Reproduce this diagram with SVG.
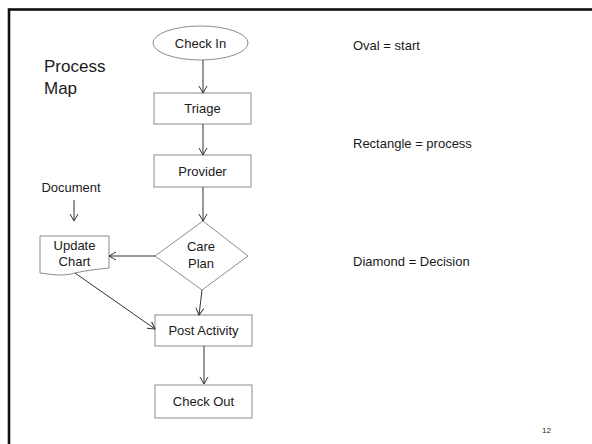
<svg xmlns="http://www.w3.org/2000/svg" width="592" height="444" viewBox="0 0 592 444">
<defs>
<marker id="ah" markerWidth="10" markerHeight="10" refX="8" refY="5" orient="auto" markerUnits="userSpaceOnUse">
<path d="M1,1 L8,5 L1,9" fill="none" stroke="#333" stroke-width="1"/>
</marker>
</defs>
<style>
.shape{fill:#fff;stroke:#8c8c8c;stroke-width:1}
.lbl{font-family:"Liberation Sans",Arial,sans-serif;font-size:13px;fill:#1a1a1a;text-anchor:middle}
.txt{font-family:"Liberation Sans",Arial,sans-serif;font-size:13px;fill:#1a1a1a}
.conn{fill:none;stroke:#333;stroke-width:1;marker-end:url(#ah)}
</style>
<rect width="592" height="444" fill="#fff"/>
<rect x="9" y="9.5" width="620" height="480" fill="none" stroke="#111" stroke-width="2.6"/>
<text class="txt" x="44" y="72" font-size="17" style="font-size:17px">Process</text>
<text class="txt" x="44" y="94" style="font-size:17px">Map</text>
<g id="checkin">
<ellipse class="shape" cx="200.5" cy="43" rx="47.5" ry="17"/>
<text class="lbl" x="200.5" y="47.5">Check In</text>
</g>
<g id="triage">
<rect class="shape" x="154" y="93" width="97" height="31"/>
<text class="lbl" x="202.5" y="113">Triage</text>
</g>
<g id="provider">
<rect class="shape" x="154" y="155" width="97" height="32"/>
<text class="lbl" x="202.5" y="175.5">Provider</text>
</g>
<g id="careplan">
<path class="shape" d="M203,221 L248,256 L202,290 L155,256 Z"/>
<text class="lbl" x="201" y="251">Care</text>
<text class="lbl" x="201" y="268">Plan</text>
</g>
<g id="updatechart">
<path class="shape" d="M40,236 H109 V268 C100,269 88,270 75,273 C62,277 50,274 40,273 Z"/>
<text class="lbl" x="74.5" y="250">Update</text>
<text class="lbl" x="74.5" y="266">Chart</text>
</g>
<g id="document">
<text class="lbl" x="71" y="192">Document</text>
</g>
<g id="postactivity">
<rect class="shape" x="155" y="315" width="97" height="31"/>
<text class="lbl" x="203.5" y="335">Post Activity</text>
</g>
<g id="checkout">
<rect class="shape" x="155" y="385" width="97" height="33"/>
<text class="lbl" x="203.5" y="406">Check Out</text>
</g>
<g id="legend">
<text class="txt" x="353" y="50">Oval = start</text>
<text class="txt" x="353" y="148">Rectangle = process</text>
<text class="txt" x="353" y="266">Diamond = Decision</text>
<text class="txt" x="542" y="433" style="font-size:8px">12</text>
</g>
<g id="connectors">
<line class="conn" x1="203" y1="60" x2="203" y2="93"/>
<line class="conn" x1="203" y1="124" x2="203" y2="155"/>
<line class="conn" x1="203" y1="187" x2="203" y2="221"/>
<line class="conn" x1="155" y1="256" x2="109" y2="256"/>
<line class="conn" x1="74" y1="200" x2="74" y2="221"/>
<line class="conn" x1="202" y1="290" x2="199" y2="315"/>
<line class="conn" x1="75" y1="273" x2="155" y2="329"/>
<line class="conn" x1="204" y1="346" x2="204" y2="384"/>
</g>
</svg>
